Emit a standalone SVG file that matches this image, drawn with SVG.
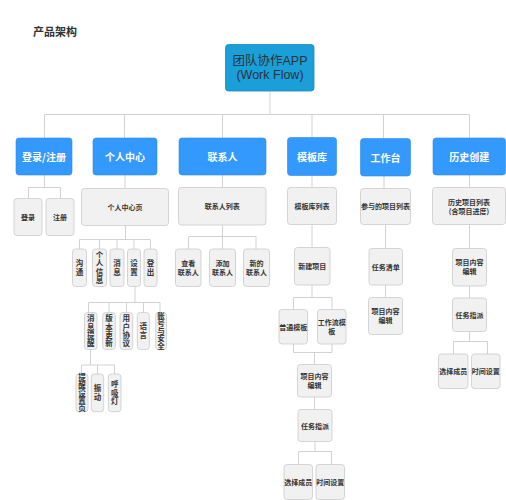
<svg xmlns="http://www.w3.org/2000/svg" width="506" height="500" viewBox="0 0 506 500">
<style>
text{font-family:"Liberation Sans","Noto Sans CJK SC",sans-serif;text-anchor:middle;dominant-baseline:central}
.title{font-size:11px;font-weight:bold;fill:#333;text-anchor:start}
.root rect{fill:#1b9fd8;stroke:#1689bd;stroke-width:0.8}
.root text{font-size:12.5px;fill:#2a3338}
.l1 rect{fill:#3399fc;stroke:#2f8ae6;stroke-width:0.6}
.l1 text{font-size:10px;font-weight:bold;fill:#fff;font-family:"Noto Sans CJK SC","Liberation Sans",sans-serif}
.lf rect{fill:#f1f1f1;stroke:#cacaca;stroke-width:0.8}
.lf text{font-size:7px;font-weight:bold;fill:#333;font-family:"Noto Sans CJK SC",sans-serif}
.lf text.v{font-size:7.5px;writing-mode:vertical-rl}
#connectors path{fill:none;stroke:#d2d2d2;stroke-width:1}
</style>
<rect width="506" height="500" fill="#fff"/>
<text class="title" x="33" y="31.5">产品架构</text>

<g id="connectors">
<path d="M270,91V114.5 M44.5,114.5H469.5 M44.5,114.5V138 M124.5,114.5V138 M222.5,114.5V138 M312,114.5V137.5 M383.5,114.5V138.5 M469.5,114.5V138"/>
<path d="M44.5,175V187.5 M28.5,187.5H60.5 M28.5,187.5V198.5 M60.5,187.5V198.5"/>
<path d="M125,175V188.5 M125.5,225.5V239.5 M79.5,239.5H150.5 M79.5,239.5V249 M99.5,239.5V249 M117,239.5V249 M134,239.5V249 M150.5,239.5V249"/>
<path d="M135,286.5V302.5 M88.5,302.5H160 M88.5,302.5V312.5 M109,302.5V312.5 M126.5,302.5V312.5 M143.5,302.5V312.5 M160,302.5V312.5"/>
<path d="M90.5,349.5V365 M81.5,365H114.5 M81.5,365V374 M97.5,365V374 M114.5,365V374"/>
<path d="M222.5,175V187.5 M222.5,225V236.5 M188.5,236.5H256 M188.5,236.5V249 M222.5,236.5V249 M256,236.5V249"/>
<path d="M312,175.5V187.5 M312,224.5V247.5 M312,285V297.5 M293.5,297.5H332 M293.5,297.5V309.5 M332,297.5V309.5 M293.5,344V352.5 M332,344V352.5 M293.5,352.5H332 M314.5,352.5V364.5 M314.5,397V409.5 M315,441.5V451.5 M298.5,451.5H331.5 M298.5,451.5V464.5 M331.5,451.5V464.5"/>
<path d="M384,176V188.5 M385.5,224.5V248.5 M385.5,285V297.5"/>
<path d="M469.5,175V187.5 M469.5,224.5V248.5 M469.5,286V298 M469.5,331.5V341.5 M453.5,341.5H487.5 M453.5,341.5V354 M487.5,341.5V354"/>
</g>

<g id="root" class="root"><rect x="225.5" y="44.5" width="88.5" height="46.5" rx="3"/><text x="270" y="60.5">团队协作APP</text><text x="270" y="75">(Work Flow)</text></g>

<g id="n-login" class="l1"><rect x="16" y="138" width="56" height="37" rx="3"/><text x="44" y="156.5">登录/注册</text></g>
<g id="n-personal" class="l1"><rect x="93" y="138" width="64" height="37" rx="3"/><text x="125" y="156.5">个人中心</text></g>
<g id="n-contacts" class="l1"><rect x="179" y="138" width="87" height="37" rx="3"/><text x="222.5" y="156.5">联系人</text></g>
<g id="n-template" class="l1"><rect x="287.5" y="137.5" width="49" height="38" rx="3"/><text x="312" y="156.5">模板库</text></g>
<g id="n-workbench" class="l1"><rect x="360.5" y="138.5" width="50" height="37.5" rx="3"/><text x="385.5" y="157">工作台</text></g>
<g id="n-history" class="l1"><rect x="433" y="138" width="72.5" height="37" rx="3"/><text x="469.3" y="156.5">历史创建</text></g>

<g id="n-denglu" class="lf"><rect x="14" y="198.5" width="28" height="37" rx="3"/><text x="28" y="217">登录</text></g>
<g id="n-zhuce" class="lf"><rect x="46" y="198.5" width="28" height="37" rx="3"/><text x="60" y="217">注册</text></g>

<g id="n-pcpage" class="lf"><rect x="81.5" y="188.5" width="87" height="37" rx="3"/><text x="125" y="207">个人中心页</text></g>

<g id="n-goutong" class="lf"><rect x="72.5" y="249" width="14" height="37.5" rx="3"/><text class="v" x="79.5" y="268.5" letter-spacing="1.5">沟通</text></g>
<g id="n-info" class="lf"><rect x="92.5" y="249" width="14" height="37.5" rx="3"/><text class="v" x="99.5" y="268.2" letter-spacing="0.8">个人信息</text></g>
<g id="n-msg" class="lf"><rect x="110" y="249" width="14" height="37.5" rx="3"/><text class="v" x="117" y="268.5" letter-spacing="1.5">消息</text></g>
<g id="n-settings" class="lf"><rect x="127.5" y="249" width="13" height="37.5" rx="3"/><text class="v" x="134" y="268.5" letter-spacing="1.5">设置</text></g>
<g id="n-logout" class="lf"><rect x="144" y="249" width="13" height="37.5" rx="3"/><text class="v" x="150.5" y="268.5" letter-spacing="1.5">登出</text></g>

<g id="n-remind" class="lf"><rect x="84.5" y="312.5" width="12.5" height="37" rx="3"/><text class="v" x="90.7" y="331.4" letter-spacing="0.8">消息提醒</text></g>
<g id="n-version" class="lf"><rect x="102.7" y="312.5" width="12.6" height="37" rx="3"/><text class="v" x="109" y="331.4" letter-spacing="0.8">版本更新</text></g>
<g id="n-agreement" class="lf"><rect x="120" y="312.5" width="12.7" height="37" rx="3"/><text class="v" x="126.3" y="331.4" letter-spacing="0.8">用户协议</text></g>
<g id="n-lang" class="lf"><rect x="137.3" y="312.5" width="12" height="37" rx="3"/><text class="v" x="143.3" y="331.7" letter-spacing="1.5">语言</text></g>
<g id="n-account" class="lf"><rect x="155.7" y="312.5" width="10.8" height="37" rx="3"/><text class="v" x="161" y="331" letter-spacing="0.1" font-size="7.3">账号与安全</text></g>

<g id="n-remindpage" class="lf"><rect x="76" y="374" width="12" height="37.7" rx="3"/><text class="v" x="82" y="393" letter-spacing="0.3">提醒设置页</text></g>
<g id="n-vibrate" class="lf"><rect x="91.3" y="374" width="12.4" height="37.7" rx="3"/><text class="v" x="97.5" y="393.6" letter-spacing="1.5">振动</text></g>
<g id="n-breath" class="lf"><rect x="108.3" y="374" width="12.7" height="37.7" rx="3"/><text class="v" x="114.7" y="393.3" letter-spacing="0.8">呼吸灯</text></g>

<g id="n-contactlist" class="lf"><rect x="178.5" y="187.5" width="87.5" height="37.5" rx="3"/><text x="222.3" y="206.3">联系人列表</text></g>
<g id="n-view" class="lf"><rect x="175.5" y="249" width="25.5" height="37.5" rx="3"/><text><tspan x="188.3" y="263">查看</tspan><tspan x="188.3" y="272">联系人</tspan></text></g>
<g id="n-add" class="lf"><rect x="209.5" y="249" width="26" height="37.5" rx="3"/><text><tspan x="222.5" y="263">添加</tspan><tspan x="222.5" y="272">联系人</tspan></text></g>
<g id="n-new" class="lf"><rect x="243.5" y="249" width="26" height="37.5" rx="3"/><text><tspan x="256.5" y="263">新的</tspan><tspan x="256.5" y="272">联系人</tspan></text></g>

<g id="n-tpllist" class="lf"><rect x="287.5" y="187.5" width="49" height="37" rx="3"/><text x="312" y="206">模板库列表</text></g>
<g id="n-newproj" class="lf"><rect x="294.5" y="247.5" width="35.5" height="37.5" rx="3"/><text x="312.3" y="266.3">新建项目</text></g>
<g id="n-normal" class="lf"><rect x="279" y="309.5" width="28.5" height="34.5" rx="3"/><text x="293.3" y="326.7">普通模板</text></g>
<g id="n-flow" class="lf"><rect x="317.5" y="309.5" width="28.5" height="34.5" rx="3"/><text><tspan x="331.7" y="321.7">工作流模</tspan><tspan x="331.7" y="330.7">板</tspan></text></g>
<g id="n-edit1" class="lf"><rect x="297.5" y="364.5" width="34" height="32.5" rx="3"/><text><tspan x="314.5" y="376">项目内容</tspan><tspan x="314.5" y="385">编辑</tspan></text></g>
<g id="n-assign1" class="lf"><rect x="298" y="409.5" width="34" height="32" rx="3"/><text x="315" y="425.5">任务指派</text></g>
<g id="n-member1" class="lf"><rect x="284" y="464.5" width="28.5" height="35" rx="3"/><text x="298.3" y="482">选择成员</text></g>
<g id="n-time1" class="lf"><rect x="316" y="464.5" width="28.5" height="35" rx="3"/><text x="330.2" y="482">时间设置</text></g>

<g id="n-joined" class="lf"><rect x="360.5" y="188.5" width="50" height="36" rx="3"/><text x="385.5" y="206.3">参与的项目列表</text></g>
<g id="n-tasklist" class="lf"><rect x="369" y="248.5" width="33.5" height="36.5" rx="3"/><text x="385.8" y="266.7">任务清单</text></g>
<g id="n-edit2" class="lf"><rect x="368.5" y="297.5" width="34" height="37" rx="3"/><text><tspan x="385.5" y="311">项目内容</tspan><tspan x="385.5" y="320">编辑</tspan></text></g>

<g id="n-histlist" class="lf"><rect x="432.5" y="187.5" width="73" height="37" rx="3"/><text><tspan x="469" y="201.7">历史项目列表</tspan><tspan x="469" y="210.7">(含项目进度)</tspan></text></g>
<g id="n-edit3" class="lf"><rect x="452.5" y="248.5" width="34" height="37.5" rx="3"/><text><tspan x="469.5" y="262">项目内容</tspan><tspan x="469.5" y="271">编辑</tspan></text></g>
<g id="n-assign2" class="lf"><rect x="452.5" y="298" width="34" height="33.5" rx="3"/><text x="469.5" y="314.7">任务指派</text></g>
<g id="n-member2" class="lf"><rect x="438.5" y="354" width="29.5" height="34.5" rx="3"/><text x="453.3" y="371.2">选择成员</text></g>
<g id="n-time2" class="lf"><rect x="471.5" y="354" width="28.5" height="34.5" rx="3"/><text x="485.7" y="371.2">时间设置</text></g>
</svg>
